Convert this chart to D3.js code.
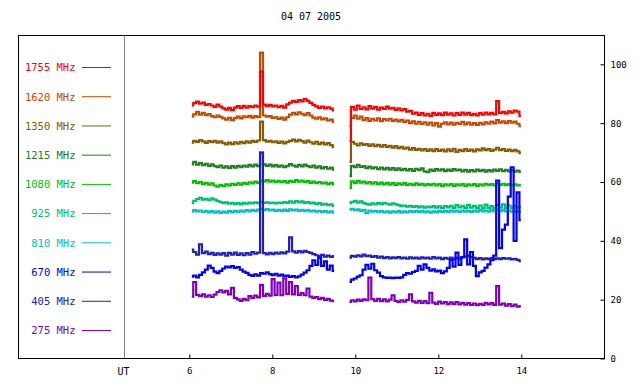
<!DOCTYPE html>
<html>
<head>
<meta charset="utf-8">
<script src="https://cdn.jsdelivr.net/npm/d3@7"></script>
<style>
  html, body { margin: 0; padding: 0; background: #fff; }
  svg { display: block; }
  text { font-family: "DejaVu Sans Mono", "Liberation Mono", monospace; }
</style>
</head>
<body>
<svg id="chart" width="640" height="384"></svg>
<script>
// ---------------- DATA ----------------
const title = "04 07 2005";
const channels = ["1755 MHz", "1620 MHz", "1350 MHz", "1215 MHz", "1080 MHz", "925 MHz", "810 MHz", "670 MHz", "405 MHz", "275 MHz"];
const channelColors = ["#ff0000", "#c84800", "#8a5a00", "#208020", "#00c000", "#00c070", "#00c0c0", "#0000ff", "#2020c0", "#8000c0"];
const xTickValues = [6, 8, 10, 12, 14];
const yTickValues = [0, 20, 40, 60, 80, 100];
const xLabelUT = "UT";

// sampling of the two observation segments (hours UT)
const segAStart = 6.06, segBStart = 9.86, sampleStep = 0.07;

const s1755A = [86.0,86.8,87.3,86.6,87.0,86.2,86.5,86.0,85.5,86.3,85.6,85.0,84.6,85.2,84.4,85.3,85.8,85.2,85.9,85.3,85.8,85.4,86.0,85.6,97.5,86.3,85.8,86.2,85.7,86.0,85.4,85.9,85.3,86.4,87.0,87.6,87.2,87.8,87.4,88.2,87.6,86.9,86.2,85.7,85.2,85.6,85.0,85.4,84.9,84.3];
const s1755B = [74.0,85.5,84.6,86.0,84.8,85.4,84.7,85.8,84.9,85.5,84.6,85.3,84.8,85.6,84.9,85.2,84.5,85.0,84.3,84.8,83.9,84.2,83.2,83.6,82.8,83.4,82.6,83.2,82.5,83.5,82.8,83.3,82.7,83.6,82.9,83.3,82.6,83.4,82.8,83.6,82.9,83.5,82.7,83.2,82.6,83.4,82.9,83.6,83.0,83.5,83.0,87.5,83.4,83.8,83.3,84.0,83.6,84.3,83.9,82.5];
const s1620A = [82.2,83.0,83.8,82.9,83.5,82.7,83.1,82.4,82.0,82.6,82.1,81.6,81.2,81.8,81.0,81.7,82.2,81.6,82.3,82.0,82.5,81.9,82.4,82.0,104.0,82.6,82.2,82.4,81.8,82.0,81.4,81.9,81.2,82.0,82.9,83.5,83.0,83.7,83.2,82.7,83.4,82.6,81.9,81.5,82.0,81.3,81.6,80.9,81.2,80.4];
const s1620B = [79.0,81.8,82.6,81.5,82.2,81.0,81.7,80.8,81.5,80.9,81.6,80.7,81.4,80.9,81.5,80.8,81.2,80.6,81.1,80.4,80.9,80.0,80.6,79.8,80.4,79.7,80.3,79.5,80.2,79.2,80.0,78.8,79.8,80.3,79.6,80.2,79.5,80.1,79.7,80.4,79.6,80.2,79.5,80.0,79.4,80.1,79.6,80.3,79.8,80.5,79.9,81.0,80.2,80.6,80.0,80.7,80.2,80.5,79.8,79.0];
const s1350A = [73.4,74.0,73.6,74.2,73.8,73.3,73.9,73.5,74.0,73.4,73.8,73.2,72.8,73.4,72.9,73.5,73.0,73.6,73.2,73.8,73.4,74.0,73.6,74.1,80.5,74.2,73.7,74.0,73.5,73.8,73.3,73.7,73.1,73.6,74.0,74.4,73.8,74.3,73.9,73.4,74.1,73.5,73.0,73.6,72.9,73.4,72.8,73.2,72.5,71.8];
const s1350B = [66.8,73.6,73.0,72.4,73.1,72.6,72.9,72.3,72.8,72.2,72.6,72.0,72.5,71.9,72.3,71.7,72.2,71.5,71.9,71.3,71.7,71.0,71.5,70.9,71.3,70.7,71.2,70.6,71.1,70.5,71.2,70.6,71.0,70.4,71.1,70.5,71.3,70.2,70.9,70.5,71.2,70.6,71.0,70.4,71.1,70.7,71.4,70.8,71.2,70.6,71.0,71.6,70.8,71.2,70.6,71.0,70.5,70.9,70.4,69.8];
const s1215A = [66.0,66.8,65.9,66.4,65.7,66.2,65.5,66.0,65.4,65.0,65.6,64.9,65.3,64.8,65.4,64.9,65.5,65.0,65.6,65.2,65.8,65.3,65.9,65.4,70.0,66.0,65.5,65.9,65.3,65.7,65.2,65.6,65.0,65.5,66.1,65.6,65.2,65.8,65.3,65.9,65.4,65.0,65.6,64.9,65.3,64.6,65.1,64.5,64.9,64.2];
const s1215B = [62.0,65.5,65.0,65.8,65.1,65.4,64.7,65.2,64.6,65.0,64.4,64.9,64.3,64.8,64.2,64.7,64.1,64.6,64.0,64.5,63.9,64.4,63.8,64.5,64.0,64.6,63.6,63.3,64.2,63.8,64.4,63.9,64.3,63.7,64.2,63.8,64.4,63.9,64.2,63.6,64.1,63.5,64.0,63.6,64.2,63.7,64.1,63.5,64.0,63.6,64.2,63.8,64.3,63.7,64.1,63.6,64.0,63.5,63.9,63.4];
const s1080A = [59.8,60.3,59.6,60.0,59.3,59.7,59.1,59.5,58.8,58.4,59.0,58.6,59.2,58.8,59.4,59.0,59.5,59.1,59.7,59.3,59.9,59.5,60.1,59.7,60.5,60.2,60.6,60.1,60.5,60.0,60.4,59.9,60.3,59.8,60.4,60.0,60.6,60.1,60.5,59.9,60.3,59.7,60.1,59.6,60.0,59.5,59.8,59.3,59.7,59.2];
const s1080B = [58.0,60.2,59.6,60.4,59.8,60.1,59.5,60.0,59.4,59.9,59.3,59.8,59.2,59.7,59.1,59.6,59.0,59.5,59.1,59.6,59.0,59.4,58.9,59.5,59.0,59.4,58.8,59.3,58.9,59.4,58.8,59.3,58.7,59.2,58.8,59.3,58.7,59.2,58.8,59.3,58.7,59.2,58.8,59.3,58.7,59.2,58.8,59.4,58.9,59.3,58.8,59.5,59.0,59.4,58.9,59.3,58.8,59.2,58.8,59.0];
const s925A = [52.8,53.6,54.2,54.6,54.0,54.3,53.8,54.4,54.0,53.6,53.2,52.8,53.1,52.6,52.9,52.5,52.8,52.4,52.9,52.6,53.0,52.7,53.1,52.8,53.2,52.9,53.1,52.8,53.0,52.7,53.0,52.8,53.2,52.9,53.4,53.0,53.5,53.1,53.4,52.9,53.2,52.7,53.0,52.5,52.8,52.3,52.6,52.1,52.4,51.9];
const s925B = [52.8,53.2,53.6,53.0,53.4,52.8,52.5,52.3,52.7,52.4,52.8,52.5,52.9,52.6,52.3,52.7,52.4,52.1,51.8,52.0,51.6,51.9,51.5,51.8,51.4,51.7,51.3,51.6,51.4,51.8,51.3,51.7,51.2,51.8,51.4,51.9,51.2,52.1,51.4,51.9,51.1,52.2,51.3,51.9,51.2,52.0,51.0,52.3,51.2,51.8,51.0,52.1,51.3,52.4,51.2,52.0,51.1,51.8,51.3,51.6];
const s810A = [49.9,50.4,50.0,50.3,49.8,50.2,49.7,50.1,49.6,50.0,49.5,49.9,49.6,50.1,49.7,50.2,49.8,50.3,49.9,50.4,50.0,50.5,50.1,50.6,50.9,50.5,50.8,50.3,50.6,50.2,50.5,50.1,50.6,50.2,50.7,50.3,50.6,50.2,50.5,50.1,50.4,50.0,50.3,49.9,50.2,49.8,50.1,49.7,50.0,49.6];
const s810B = [50.6,50.9,50.4,50.7,50.2,50.5,49.4,50.3,49.9,50.2,49.8,50.1,49.7,50.0,49.6,50.0,49.7,50.1,49.6,50.0,49.7,50.1,49.8,50.2,49.8,50.1,49.7,50.0,49.6,50.0,49.7,50.1,49.8,50.2,49.8,50.3,49.9,50.2,49.8,50.3,49.9,50.2,49.8,50.3,49.9,50.4,50.0,50.3,49.9,50.4,50.0,50.5,50.1,50.4,50.0,50.3,49.9,50.2,49.8,50.0];
const s670A = [27.8,28.2,27.6,28.4,29.3,30.2,31.6,30.8,29.5,29.0,29.8,30.6,31.2,31.0,31.4,30.8,31.1,30.2,29.5,29.1,28.4,28.1,28.6,28.2,29.0,28.8,29.3,28.7,28.3,28.8,28.2,28.5,27.9,28.2,27.7,28.0,27.6,27.9,28.5,29.2,30.0,31.5,33.4,31.8,34.2,31.5,33.0,30.2,31.6,29.8];
const s670B = [26.0,26.8,27.2,27.8,28.3,30.2,31.8,30.5,32.2,30.0,29.2,28.0,27.6,27.4,27.5,27.3,27.5,27.4,27.6,28.4,29.0,28.8,29.4,29.8,31.5,30.2,32.0,30.8,29.9,30.3,29.6,29.9,29.0,29.6,30.8,33.5,31.2,36.0,31.8,34.5,40.5,32.0,36.2,31.5,28.0,29.3,29.8,30.9,32.0,33.4,35.0,60.5,37.5,43.8,45.5,55.0,65.0,40.0,56.5,47.0];
const s405A = [37.0,36.2,35.3,38.8,35.8,36.3,35.5,35.9,35.2,35.7,35.3,35.8,35.0,35.9,35.3,36.0,35.2,35.7,35.1,35.8,35.3,36.2,35.6,36.0,70.0,35.8,35.4,35.9,35.5,36.0,35.6,36.1,35.7,36.3,41.2,36.4,36.0,36.5,36.1,36.6,36.2,35.9,35.5,35.1,34.8,35.2,34.6,35.0,34.5,34.8];
const s405B = [34.3,34.9,34.6,35.1,34.7,35.3,34.8,35.0,34.5,34.8,34.3,34.6,34.1,34.5,34.0,34.4,34.1,34.5,34.0,34.3,33.9,34.4,34.0,34.3,33.9,34.4,34.0,34.3,33.9,34.5,34.0,34.3,33.8,34.2,33.9,34.3,33.8,34.2,33.9,34.4,34.6,34.9,34.5,34.2,33.8,34.1,33.7,34.0,33.8,34.1,33.8,34.0,33.8,34.1,33.9,34.0,33.7,33.9,33.5,33.1];
const s275A = [21.0,26.0,21.6,21.2,21.8,21.0,21.5,20.9,21.7,22.6,23.2,22.5,23.0,21.8,24.0,20.6,20.1,19.6,20.3,19.8,21.2,20.6,21.4,20.8,25.0,21.3,22.0,21.4,27.0,21.6,25.8,21.5,27.2,22.0,26.0,21.8,24.6,21.6,22.2,21.5,23.8,21.0,20.6,20.9,20.2,20.6,19.9,20.3,19.7,19.5];
const s275B = [19.2,19.8,19.4,20.0,19.6,20.1,19.8,27.5,20.2,19.6,20.3,19.5,20.1,19.4,20.0,21.5,19.6,19.2,19.8,19.3,19.9,21.8,19.4,19.0,19.6,18.9,19.5,18.8,22.3,19.0,18.6,19.3,18.7,19.2,18.5,19.1,18.6,19.2,18.4,18.9,18.3,18.8,18.2,18.7,18.1,18.6,18.2,18.9,18.4,18.8,18.2,24.6,18.3,18.7,18.0,18.5,17.8,18.3,17.6,17.8];

const seriesA = [s1755A, s1620A, s1350A, s1215A, s1080A, s925A, s810A, s670A, s405A, s275A];
const seriesB = [s1755B, s1620B, s1350B, s1215B, s1080B, s925B, s810B, s670B, s405B, s275B];
// drawing order (indices into channels)
const drawOrder = [1, 0, 2, 3, 4, 5, 6, 8, 7, 9];

// ---------------- LAYOUT ----------------
const svg = d3.select("#chart");
const frame = { left: 18.5, top: 35.5, right: 604.5, bottom: 358.5 };
const utX = 124.5;

const x = d3.scaleLinear().domain([6, 14]).range([189.3, 521.3]);
const y = d3.scaleLinear().domain([0, 100]).range([frame.bottom, 64.3]);

// title
svg.append("text")
  .attr("x", 311).attr("y", 20)
  .attr("text-anchor", "middle")
  .attr("font-size", 10)
  .attr("fill", "#000")
  .text(title);

// frame
svg.append("rect")
  .attr("x", frame.left).attr("y", frame.top)
  .attr("width", frame.right - frame.left)
  .attr("height", frame.bottom - frame.top)
  .attr("fill", "none").attr("stroke", "#000").attr("stroke-width", 1);

// UT divider
svg.append("line")
  .attr("x1", utX).attr("x2", utX)
  .attr("y1", frame.top).attr("y2", frame.bottom)
  .attr("stroke", "#808080").attr("stroke-width", 1);

// x axis
const xAxis = d3.axisBottom(x).tickValues(xTickValues).tickSize(-4).tickPadding(9).tickFormat(d3.format("d"));
const gx = svg.append("g").attr("transform", `translate(0,${frame.bottom})`).call(xAxis);
gx.select(".domain").remove();
gx.selectAll("line").attr("stroke", "#000");
gx.selectAll("text").attr("font-size", 9).attr("font-family", "DejaVu Sans Mono").attr("fill", "#000");

svg.append("text")
  .attr("x", utX - 1).attr("y", frame.bottom + 16)
  .attr("text-anchor", "middle")
  .attr("font-size", 10).attr("fill", "#000")
  .text(xLabelUT);

// y axis (right)
const yAxis = d3.axisRight(y).tickValues(yTickValues).tickSize(-4).tickPadding(6);
const gy = svg.append("g").attr("transform", `translate(${frame.right},0)`).call(yAxis);
gy.select(".domain").remove();
gy.selectAll("line").attr("stroke", "#000");
gy.selectAll("text").attr("font-size", 9).attr("font-family", "DejaVu Sans Mono").attr("fill", "#000");

// legend
const legendY = d3.scalePoint().domain(channels).range([67.5, 330.5]);
const lg = svg.append("g");
channels.forEach((c, i) => {
  lg.append("text")
    .attr("x", 75.5).attr("y", legendY(c))
    .attr("dy", "0.36em")
    .attr("text-anchor", "end")
    .attr("font-size", 10.5)
    .attr("fill", channelColors[i])
    .text(c);
  lg.append("line")
    .attr("x1", 82).attr("x2", 111)
    .attr("y1", legendY(c)).attr("y2", legendY(c))
    .attr("stroke", channelColors[i]).attr("stroke-width", 1);
});

// traces
const line = d3.line().curve(d3.curveStep).x(d => x(d[0])).y(d => y(d[1]));
const traces = svg.append("g");
drawOrder.forEach(i => {
  const a = seriesA[i].map((v, k) => [segAStart + k * sampleStep, v]);
  const b = seriesB[i].map((v, k) => [segBStart + k * sampleStep, v]);
  [a, b].forEach(seg => {
    traces.append("path")
      .datum(seg)
      .attr("d", line)
      .attr("fill", "none")
      .attr("stroke", channelColors[i])
      .attr("stroke-width", 2.2)
      .attr("stroke-linejoin", "miter");
  });
});
</script>
</body>
</html>
